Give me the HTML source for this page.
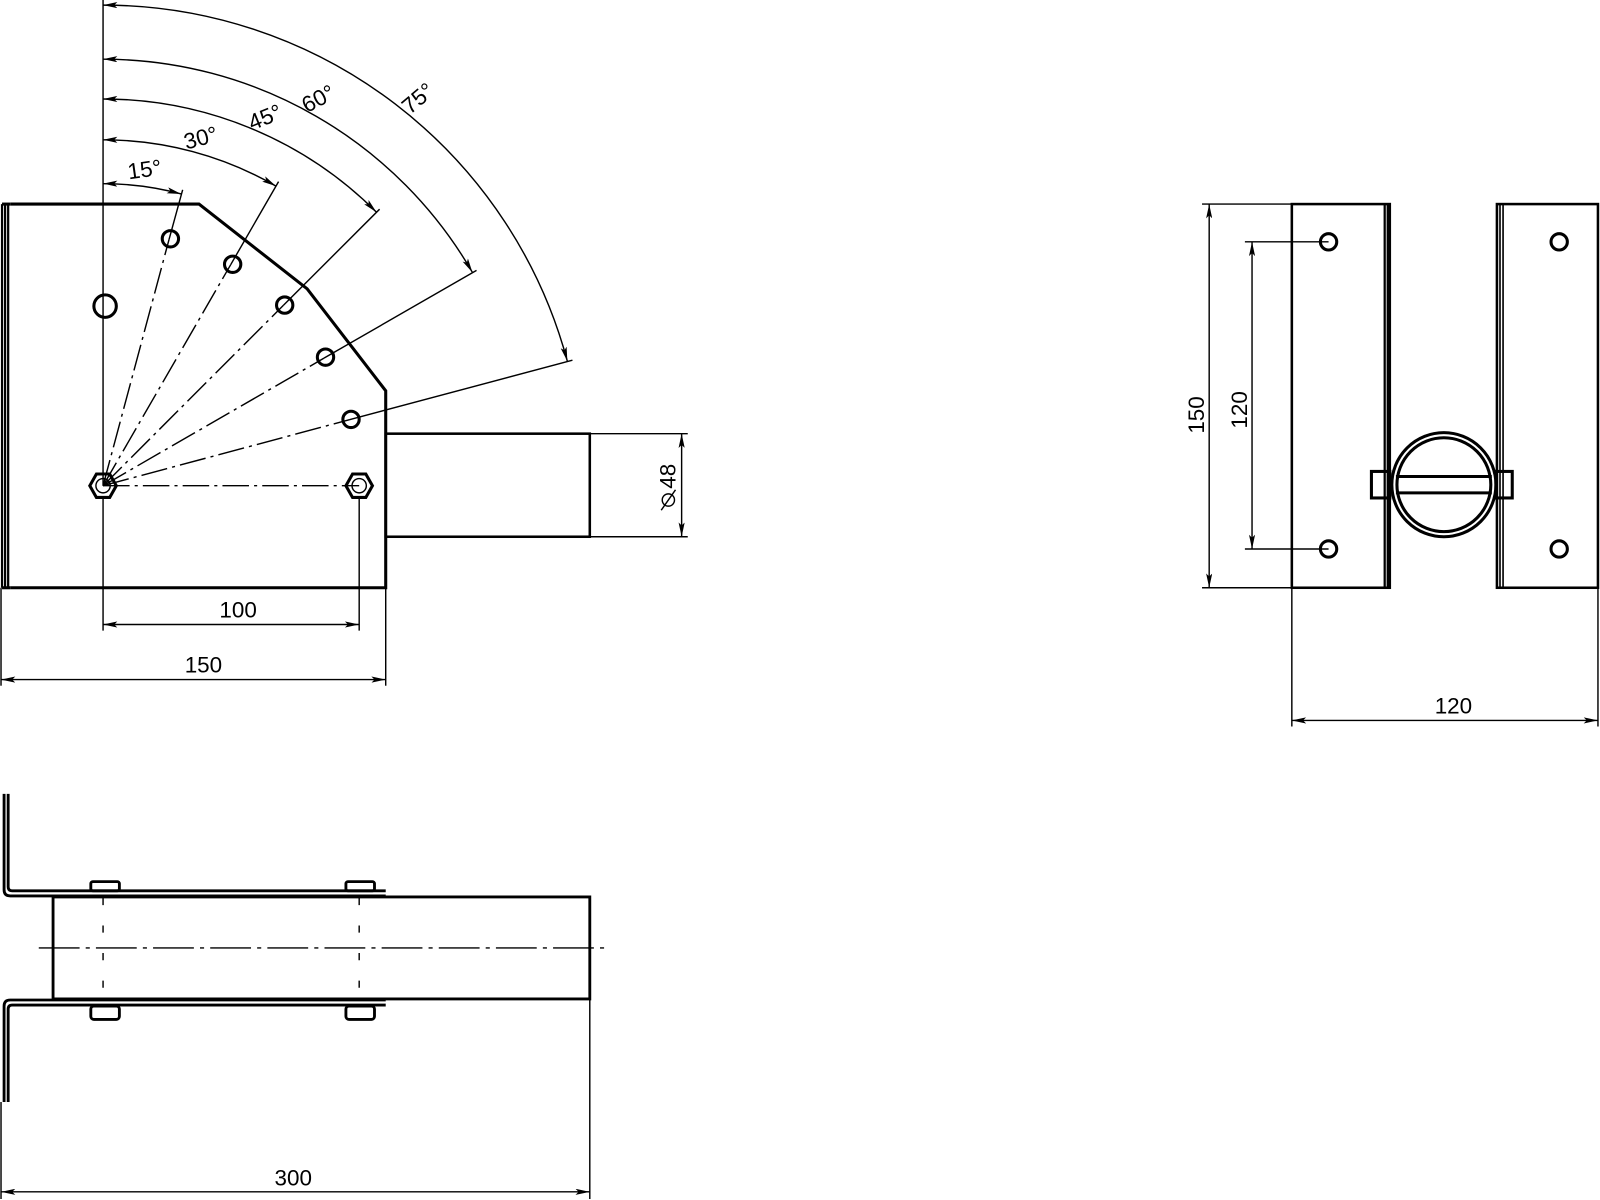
<!DOCTYPE html>
<html><head><style>html,body{margin:0;padding:0;background:#fff}svg{display:block}text{font-family:"Liberation Sans",sans-serif;font-size:22px;fill:#000}</style></head>
<body>
<svg width="1600" height="1200" viewBox="0 0 1568 1176" preserveAspectRatio="none" xmlns="http://www.w3.org/2000/svg">
<defs>
<marker id="a" viewBox="0 0 14 6" refX="14" refY="3" markerWidth="14" markerHeight="6" markerUnits="userSpaceOnUse" orient="auto-start-reverse"><path d="M0,0 L14,3 L0,6 L3,3z" fill="#000"/></marker>
</defs>
<g fill="none" stroke="#000" stroke-width="1.4">
<path d="M10,200 L195,200 L301,283 L378,383 L378,576 L10,576" stroke-width="3"/>
<path d="M2,200V576M5,200V576M8,200V576" stroke-width="2.2"/>
<line x1="2" y1="200" x2="10" y2="200" stroke-width="3"/><line x1="2" y1="576" x2="10" y2="576" stroke-width="3"/>
<rect x="378" y="425" width="200" height="101" stroke-width="2.5"/>
<line x1="101" y1="0" x2="101" y2="476"/>
<g stroke-dasharray="26,5,3,5">
<line x1="101" y1="476" x2="165.7" y2="234.5"/><line x1="101" y1="476" x2="226" y2="259.5"/>
<line x1="101" y1="476" x2="277.8" y2="299.2"/><line x1="101" y1="476" x2="317.5" y2="351"/>
<line x1="101" y1="476" x2="342.5" y2="411.3"/><line x1="101" y1="476" x2="352" y2="476"/>
</g>
<line x1="165.7" y1="234.5" x2="179" y2="186"/><line x1="226" y1="259.5" x2="273" y2="178"/>
<line x1="277.8" y1="299.2" x2="372" y2="205"/><line x1="317.5" y1="351" x2="467" y2="265"/>
<line x1="342.5" y1="411.3" x2="561" y2="353"/>
<path d="M101,180 A296,296 0 0 1 177.6,190.1" marker-start="url(#a)" marker-end="url(#a)"/>
<path d="M101,137 A339,339 0 0 1 270.5,182.4" marker-start="url(#a)" marker-end="url(#a)"/>
<path d="M101,97 A379,379 0 0 1 369,208" marker-start="url(#a)" marker-end="url(#a)"/>
<path d="M101,58 A418,418 0 0 1 463,267" marker-start="url(#a)" marker-end="url(#a)"/>
<path d="M101,5 A471,471 0 0 1 556,354" marker-start="url(#a)" marker-end="url(#a)"/>
<g stroke-width="3">
<circle cx="103" cy="300" r="11"/>
<circle cx="167" cy="234" r="8"/><circle cx="228" cy="259" r="8"/><circle cx="279" cy="299" r="8"/>
<circle cx="319" cy="350" r="8"/><circle cx="344" cy="411" r="8"/>
<polygon points="88,476 94.5,464.5 107.5,464.5 114,476 107.5,487.5 94.5,487.5"/>
<polygon points="339,476 345.5,464.5 358.5,464.5 365,476 358.5,487.5 345.5,487.5"/>
</g>
<circle cx="101" cy="476" r="7"/><circle cx="352" cy="476" r="7"/>
<line x1="101" y1="488" x2="101" y2="618"/><line x1="352" y1="488" x2="352" y2="618"/>
<line x1="101" y1="612" x2="352" y2="612" marker-start="url(#a)" marker-end="url(#a)"/>
<line x1="1" y1="576" x2="1" y2="672"/><line x1="378" y1="576" x2="378" y2="672"/>
<line x1="1" y1="666" x2="378" y2="666" marker-start="url(#a)" marker-end="url(#a)"/>
<line x1="578" y1="425" x2="674" y2="425"/><line x1="578" y1="526" x2="674" y2="526"/>
<line x1="668" y1="425" x2="668" y2="526" marker-start="url(#a)" marker-end="url(#a)"/>
<circle cx="655" cy="490" r="6"/><line x1="648" y1="500" x2="662" y2="480"/>
<rect x="1266" y="200" width="96" height="376" stroke-width="2.5"/>
<path d="M1357,200V576M1360,200V576" stroke-width="2.2"/>
<rect x="1467" y="200" width="99" height="376" stroke-width="2.5"/>
<path d="M1470,200V576M1473,200V576" stroke-width="1.6"/>
<g stroke-width="3">
<circle cx="1302" cy="237" r="8"/><circle cx="1302" cy="538" r="8"/>
<circle cx="1528" cy="237" r="8"/><circle cx="1528" cy="538" r="8"/>
<circle cx="1415" cy="475" r="51"/><circle cx="1415" cy="475" r="46"/>
<path d="M1368,467H1462M1368,483H1462"/>
<rect x="1344" y="462" width="18" height="26"/><rect x="1466" y="462" width="16" height="26"/>
</g>
<path d="M1178,200H1266M1178,576H1266M1220,237H1302M1220,538H1302"/>
<line x1="1185" y1="200" x2="1185" y2="576" marker-start="url(#a)" marker-end="url(#a)"/>
<line x1="1227" y1="237" x2="1227" y2="538" marker-start="url(#a)" marker-end="url(#a)"/>
<path d="M1266,576V712M1566,576V712"/>
<line x1="1266" y1="706" x2="1566" y2="706" marker-start="url(#a)" marker-end="url(#a)"/>
<g stroke-width="2.8">
<path d="M4,778V872Q4,878 10,878H378"/>
<path d="M378,873H12Q8,873 8,869V778"/>
<path d="M4,1080V986Q4,980 10,980H378"/>
<path d="M378,985H12Q8,985 8,989V1080"/>
<path d="M52,879V979M52,879H578V979H52"/>
<rect x="89" y="864" width="28" height="9" rx="2"/><rect x="339" y="864" width="28" height="9" rx="2"/>
<rect x="89" y="986" width="28" height="13" rx="3"/><rect x="339" y="986" width="28" height="13" rx="3"/>
</g>
<line x1="38" y1="929" x2="592" y2="929" stroke-dasharray="40,6,4,6"/>
<path d="M101,880V979M352,880V979" stroke-dasharray="7,20"/>
<path d="M1,1080V1175M578,980V1175"/>
<line x1="1" y1="1168" x2="578" y2="1168" marker-start="url(#a)" marker-end="url(#a)"/>
</g>
<text x="125" y="174" transform="rotate(-8 138 166)">15°</text>
<text x="180" y="143" transform="rotate(-15 195 135)">30°</text>
<text x="243" y="123" transform="rotate(-22 258 115)">45°</text>
<text x="295" y="104" transform="rotate(-28 312 96)">60°</text>
<text x="393" y="105" transform="rotate(-40 408 97)">75°</text>
<text x="215" y="605">100</text>
<text x="181" y="659">150</text>
<text transform="translate(662,479) rotate(-90)">48</text>
<text transform="translate(1180,425) rotate(-90)">150</text>
<text transform="translate(1222,420) rotate(-90)">120</text>
<text x="1406" y="699">120</text>
<text x="269" y="1162">300</text>
</svg>
</body></html>
